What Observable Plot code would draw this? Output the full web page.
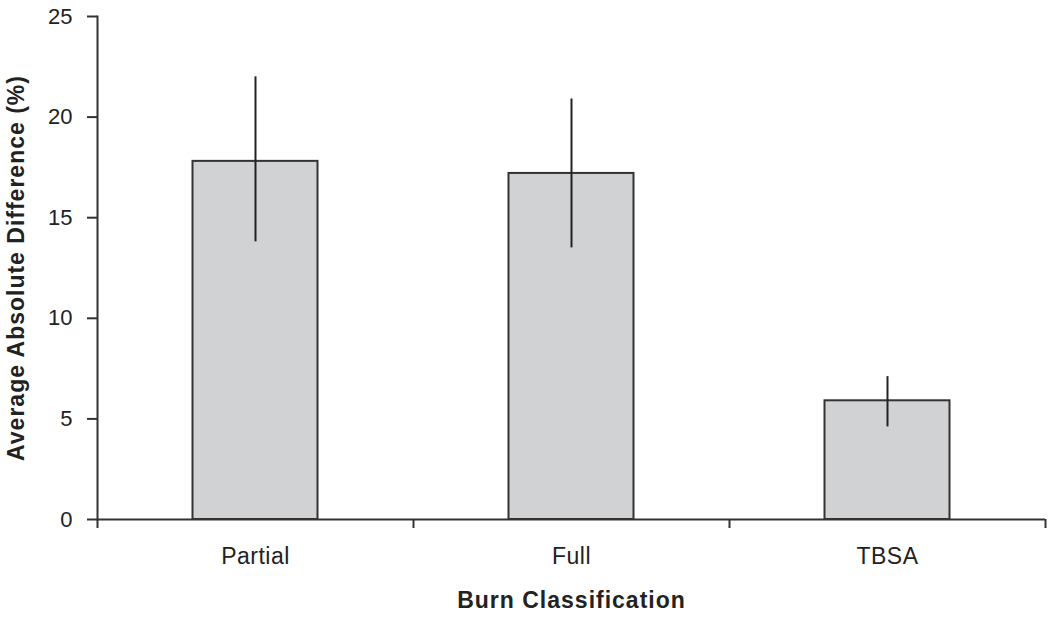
<!DOCTYPE html>
<html>
<head>
<meta charset="utf-8">
<script src="https://cdn.jsdelivr.net/npm/d3@7"></script>
<script src="https://cdn.jsdelivr.net/npm/@observablehq/plot@0.6"></script>
<style>
  html, body { margin: 0; padding: 0; background: #fff; }
  #chart svg { font-family: "Liberation Sans", Arial, sans-serif; }
  g[aria-label="y-axis label"] text, g[aria-label="x-axis label"] text { font-weight: bold; font-size: 23px; letter-spacing: 1px; fill: #222; }
  g[aria-label="x-axis tick label"] text { letter-spacing: 0.5px; }
</style>
</head>
<body>
<div id="chart"></div>
<script>
const categories = ["Partial", "Full", "TBSA"];
const means = [17.8, 17.2, 5.9];
const lows = [13.8, 13.5, 4.6];
const highs = [22.0, 20.9, 7.1];
const yTicks = [0, 5, 10, 15, 20, 25];

const data = categories.map((c, i) => ({cat: c, mean: means[i], low: lows[i], high: highs[i]}));

const W = 1050, H = 617;
const mL = 97, mR = 5, mT = 16, mB = 98;
const step = (W - mL - mR) / categories.length;
const barInset = (step - 125) / 2;

const plot = Plot.plot({
  width: W,
  height: H,
  marginLeft: mL,
  marginRight: mR,
  marginTop: mT,
  marginBottom: mB,
  style: {fontSize: "22px", color: "#222", background: "#fff"},
  x: {domain: categories, padding: 0, label: "Burn Classification"},
  y: {domain: [0, 25], label: "Average Absolute Difference (%)"},
  marks: [
    Plot.barY(data, {x: "cat", y: "mean", fill: "#d1d2d4", stroke: "#333", strokeWidth: 2, insetLeft: barInset, insetRight: barInset}),
    Plot.ruleX(data, {x: "cat", y1: "low", y2: "high", stroke: "#222", strokeWidth: 2}),
    Plot.ruleY([0], {stroke: "#333", strokeWidth: 2}),
    Plot.frame({anchor: "left", stroke: "#333", strokeWidth: 2}),
    Plot.axisY({ticks: yTicks, tickSize: 10, tickPadding: 15, strokeWidth: 2, stroke: "#333", fill: "#222", fontSize: 22, label: "Average Absolute Difference (%)", labelAnchor: "center", labelArrow: "none", labelOffset: 90}),
    Plot.axisX({tickSize: 0, tickPadding: 28, fill: "#222", fontSize: 23, label: "Burn Classification", labelAnchor: "center", labelArrow: "none", labelOffset: 88}),
    Plot.axisX({ticks: categories, tickSize: 9, dx: -step / 2, text: null, label: null, strokeWidth: 2, stroke: "#333"}),
    Plot.axisX({ticks: categories.slice(-1), tickSize: 9, dx: step / 2, text: null, label: null, strokeWidth: 2, stroke: "#333"})
  ]
});
document.getElementById("chart").appendChild(plot);
</script>
</body>
</html>
